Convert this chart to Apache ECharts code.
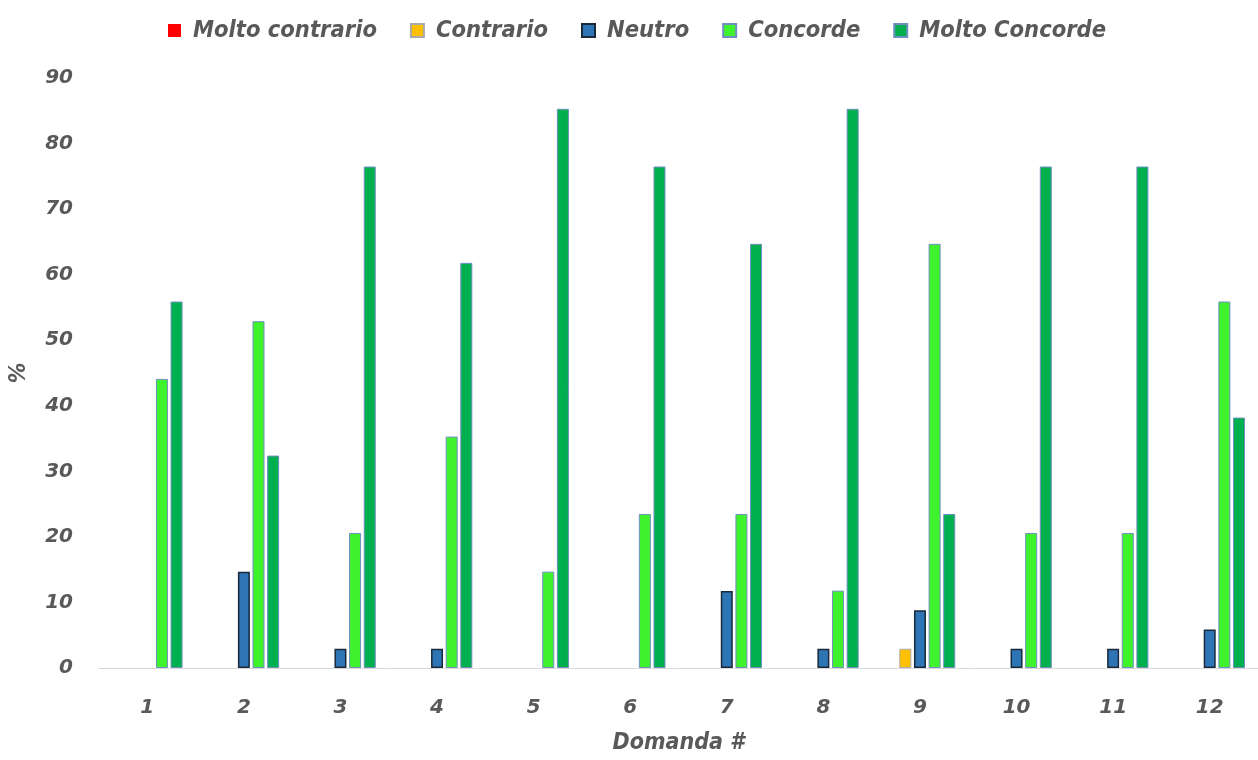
<!DOCTYPE html>
<html>
<head>
<meta charset="utf-8">
<title>Domanda #</title>
<script src="https://cdn.jsdelivr.net/npm/echarts@6/dist/echarts.min.js"></script>
<style>
  html, body { margin: 0; padding: 0; background: #ffffff; }
  #chart { width: 1258px; height: 760px; }
</style>
</head>
<body>
<div id="chart"></div>
<script>
// Question numbers on the x axis
const categories = ['1', '2', '3', '4', '5', '6', '7', '8', '9', '10', '11', '12'];

// Share of answers (%) per question for each level of agreement
const moltoContrario = [0, 0, 0, 0, 0, 0, 0, 0, 0, 0, 0, 0];
const contrario      = [0, 0, 0, 0, 0, 0, 0, 0, 2.94, 0, 0, 0];
const neutro         = [0, 14.7, 2.94, 2.94, 0, 0, 11.76, 2.94, 8.82, 2.94, 2.94, 5.88];
const concorde       = [44.1, 52.9, 20.6, 35.3, 14.7, 23.5, 23.5, 11.8, 64.7, 20.6, 20.6, 55.9];
const moltoConcorde  = [55.9, 32.4, 76.5, 61.8, 85.3, 76.5, 64.7, 85.3, 23.5, 76.5, 76.5, 38.2];

// Value axis ticks
const yTicks = { min: 0, max: 90, interval: 10 };

const textGrey = '#595959';
const axisFont = { fontFamily: 'DejaVu Sans', fontWeight: 'bold', fontStyle: 'italic', fontSize: 20, color: textGrey };
const titleFont = { fontFamily: "'DejaVu Sans Condensed', 'DejaVu Sans'", fontWeight: 'bold', fontStyle: 'italic', fontSize: 23.5, color: textGrey };

function barSeries(name, values, fill, border, borderWidth) {
  return {
    name: name,
    type: 'bar',
    barWidth: 12,
    barGap: '22%',
    data: values.map(v => (v === 0 ? '-' : v)),
    itemStyle: { color: fill, borderColor: border, borderWidth: borderWidth },
    emphasis: { disabled: true }
  };
}

const chart = echarts.init(document.getElementById('chart'), null, { renderer: 'canvas' });

chart.setOption({
  animation: false,
  backgroundColor: '#ffffff',
  legend: {
    top: 14,
    left: 163,
    itemWidth: 13,
    itemHeight: 13,
    itemGap: 33,
    icon: 'rect',
    textStyle: Object.assign({ padding: [0, 0, 0, 7] }, titleFont),
    data: ['Molto contrario', 'Contrario', 'Neutro', 'Concorde', 'Molto Concorde']
  },
  grid: { left: 97, right: -4, top: 78, bottom: 86, containLabel: false },
  xAxis: {
    type: 'category',
    data: categories,
    name: 'Domanda #',
    nameLocation: 'middle',
    nameGap: 64,
    nameTextStyle: Object.assign({}, titleFont, { fontSize: 23 }),
    axisLine: { show: true, lineStyle: { color: '#d9d9d9', width: 1 } },
    axisTick: { show: false },
    axisLabel: Object.assign({ margin: 30 }, axisFont),
    splitLine: { show: false }
  },
  yAxis: {
    type: 'value',
    min: yTicks.min,
    max: yTicks.max,
    interval: yTicks.interval,
    name: '%',
    nameLocation: 'middle',
    nameGap: 68,
    nameTextStyle: Object.assign({}, titleFont, { fontSize: 23 }),
    axisLine: { show: false },
    axisTick: { show: false },
    axisLabel: Object.assign({ margin: 26 }, axisFont),
    splitLine: { show: false }
  },
  series: [
    barSeries('Molto contrario', moltoContrario, '#ff0000', '#ff0000', 0),
    barSeries('Contrario', contrario, '#ffc000', '#a9a9a9', 1),
    barSeries('Neutro', neutro, '#2e75b6', '#1a2a3a', 1.5),
    barSeries('Concorde', concorde, '#3ef22c', '#6f8fc0', 1),
    barSeries('Molto Concorde', moltoConcorde, '#00b04f', '#6f8fc0', 1)
  ]
});
</script>
</body>
</html>
